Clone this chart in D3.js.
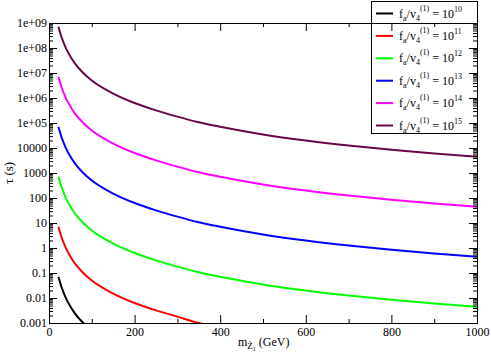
<!DOCTYPE html>
<html>
<head>
<meta charset="utf-8">
<script src="https://cdn.jsdelivr.net/npm/d3@7"></script>
<style>
body { margin: 0; background: #fff; }
svg { display: block; }
text { font-family: "Liberation Serif", "DejaVu Serif", serif; }
</style>
</head>
<body>
<svg width="491" height="357"></svg>
<script>
// masse (GeV) comuni a tutte le curve
var masses = [22, 30, 40, 50, 60, 80, 100, 150, 200, 250, 300, 350, 400, 500, 600, 700, 800, 900, 1000];

// tau (s), una lista per ogni f_a/v_4
var tau10 = [0.071, 0.025, 0.0095, 0.0046, 0.0025, 0.0010, 0.0005];
var tau11 = [7.1, 2.5, 0.95, 0.46, 0.25, 0.10, 0.050, 0.015, 0.0063, 0.0032, 0.0018, 0.00100, 0.00071];
var tau12 = [710, 250, 95, 46, 25, 10, 5.0, 1.5, 0.63, 0.32, 0.18, 0.107, 0.071, 0.035, 0.020, 0.0126, 0.0085, 0.0060, 0.0045];
var tau13 = [7.1e4, 2.5e4, 9500, 4600, 2500, 1000, 500, 150, 63, 32, 18, 10.7, 7.1, 3.5, 2.0, 1.26, 0.85, 0.60, 0.45];
var tau14 = [7.1e6, 2.5e6, 9.5e5, 4.6e5, 2.5e5, 1.0e5, 5.0e4, 1.5e4, 6300, 3200, 1800, 1070, 710, 350, 200, 126, 85, 60, 45];
var tau15 = [7.1e8, 2.5e8, 9.5e7, 4.6e7, 2.5e7, 1.0e7, 5.0e6, 1.5e6, 6.3e5, 3.2e5, 1.8e5, 1.07e5, 7.1e4, 3.5e4, 2.0e4, 1.26e4, 8500, 6000, 4500];

var seriesExp = ["10", "11", "12", "13", "14", "15"];
var seriesColors = ["#000000", "#ff0000", "#00ff00", "#0000ff", "#ff00ff", "#670748"];
var seriesData = [tau10, tau11, tau12, tau13, tau14, tau15];

// tick
var xTicks = [0, 200, 400, 600, 800, 1000];
var xMinor = [100, 300, 500, 700, 900];
var yTicks = [1e-3, 1e-2, 1e-1, 1, 10, 100, 1000, 1e4, 1e5, 1e6, 1e7, 1e8, 1e9];
var yTickLabels = ["0.001", "0.01", "0.1", "1", "10", "100", "1000", "10000", "1e+05", "1e+06", "1e+07", "1e+08", "1e+09"];

var svg = d3.select("svg");
var mLeft = 49, mRight = 477, mTop = 23, mBottom = 323;

var x = d3.scaleLinear().domain([0, 1000]).range([mLeft, mRight]);
var y = d3.scaleLog().domain([1e-3, 1e9]).range([mBottom, mTop]);

// minor tick logaritmici 2..9 per decade
var yMinor = [];
yTicks.slice(0, -1).forEach(function (d) {
  for (var k = 2; k <= 9; k++) yMinor.push(d * k);
});

svg.append("defs").append("clipPath").attr("id", "clip")
  .append("rect").attr("x", mLeft).attr("y", mTop)
  .attr("width", mRight - mLeft).attr("height", mBottom - mTop);

var line = d3.line()
  .x(function (d) { return x(d[0]); })
  .y(function (d) { return y(d[1]); })
  .curve(d3.curveMonotoneX);

svg.append("g").attr("clip-path", "url(#clip)")
  .selectAll("path")
  .data(seriesData)
  .enter()
  .append("path")
  .attr("d", function (s) { return line(s.map(function (v, i) { return [masses[i], v]; })); })
  .attr("fill", "none")
  .attr("stroke", function (s, i) { return seriesColors[i]; })
  .attr("stroke-width", 2);

// legenda
var leg = svg.append("g");
leg.append("rect")
  .attr("x", 371.5).attr("y", 1.5).attr("width", 106).attr("height", 132)
  .attr("fill", "#fff").attr("stroke", "#000").attr("stroke-width", 1);

seriesExp.forEach(function (e, i) {
  var yy = 13.5 + i * 22.4;
  leg.append("line")
    .attr("x1", 376).attr("x2", 393).attr("y1", yy).attr("y2", yy)
    .attr("stroke", seriesColors[i]).attr("stroke-width", 2);
  var t = leg.append("text").attr("x", 399).attr("y", yy + 4).attr("font-size", 12);
  t.append("tspan").text("f");
  t.append("tspan").attr("font-size", 8).attr("dy", 3).text("a");
  t.append("tspan").attr("dy", -3).text("/v");
  t.append("tspan").attr("font-size", 8).attr("dy", 3).text("4");
  t.append("tspan").attr("font-size", 8).attr("dy", -10).text("(1)");
  t.append("tspan").attr("dy", 7).text(" = 10");
  t.append("tspan").attr("font-size", 8).attr("dy", -6).text(e);
});

// assi
function style(g) {
  g.attr("font-family", null).attr("font-size", 12);
  g.selectAll("text").attr("fill", "#000");
  g.selectAll("line").attr("stroke", "#000");
  g.select(".domain").attr("stroke", "#000");
}

svg.append("g").attr("transform", "translate(0," + mBottom + ")")
  .call(d3.axisBottom(x).tickValues(xTicks).tickSize(-8).tickSizeOuter(0).tickPadding(4)
    .tickFormat(function (d) { return d; }))
  .call(style);
svg.append("g").attr("transform", "translate(0," + mBottom + ")")
  .call(d3.axisBottom(x).tickValues(xMinor).tickSize(-4).tickSizeOuter(0).tickFormat(""))
  .call(style);
svg.append("g").attr("transform", "translate(0," + mTop + ")")
  .call(d3.axisTop(x).tickValues(xTicks).tickSize(-8).tickSizeOuter(0).tickFormat(""))
  .call(style);
svg.append("g").attr("transform", "translate(0," + mTop + ")")
  .call(d3.axisTop(x).tickValues(xMinor).tickSize(-4).tickSizeOuter(0).tickFormat(""))
  .call(style);

svg.append("g").attr("transform", "translate(" + mLeft + ",0)")
  .call(d3.axisLeft(y).tickValues(yTicks).tickSize(-8).tickSizeOuter(0).tickPadding(2)
    .tickFormat(function (d, i) { return yTickLabels[i]; }))
  .call(style);
svg.append("g").attr("transform", "translate(" + mLeft + ",0)")
  .call(d3.axisLeft(y).tickValues(yMinor).tickSize(-4).tickSizeOuter(0).tickFormat(""))
  .call(style);
svg.append("g").attr("transform", "translate(" + mRight + ",0)")
  .call(d3.axisRight(y).tickValues(yTicks).tickSize(-8).tickSizeOuter(0).tickFormat(""))
  .call(style);
svg.append("g").attr("transform", "translate(" + mRight + ",0)")
  .call(d3.axisRight(y).tickValues(yMinor).tickSize(-4).tickSizeOuter(0).tickFormat(""))
  .call(style);

// titoli assi
var xl = svg.append("text").attr("x", 238).attr("y", 346).attr("font-size", 12);
xl.append("tspan").text("m");
xl.append("tspan").attr("font-size", 9).attr("dy", 3).text("Z\u0303");
xl.append("tspan").attr("font-size", 6).attr("dy", 2).text("1");
xl.append("tspan").attr("dy", -5).text(" (GeV)");

svg.append("text")
  .attr("transform", "translate(13," + (mTop + mBottom) / 2 + ") rotate(-90)")
  .attr("text-anchor", "middle").attr("font-size", 13)
  .text("\u03c4 (s)");
</script>
</body>
</html>
